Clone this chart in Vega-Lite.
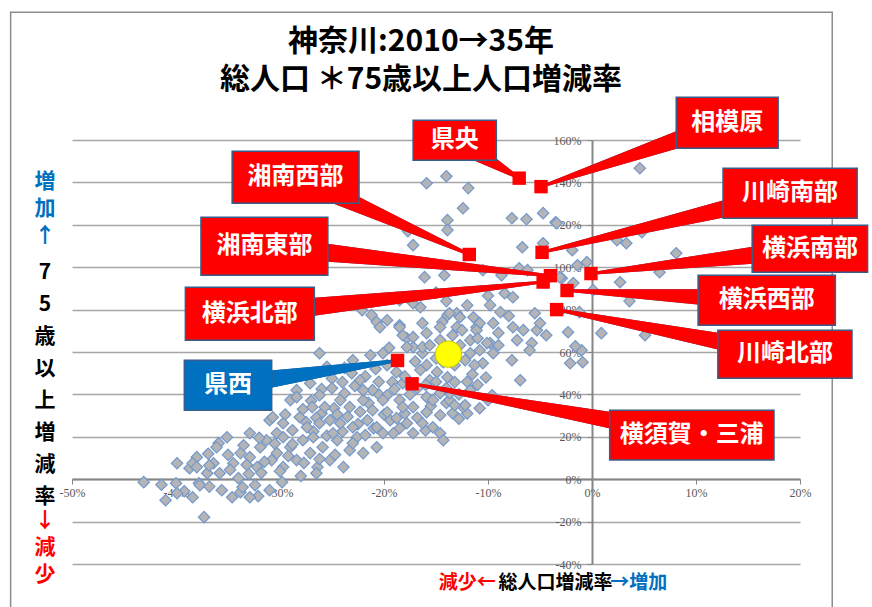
{
"$schema": "https://vega.github.io/schema/vega-lite/v6.json",
"width": 728, "height": 424,
"autosize": {"type": "none"},
"padding": {"left": 72, "top": 140, "right": 72, "bottom": 43},
"background": "white",
"title": {"text": ["神奈川:2010→35年", "総人口 ＊75歳以上人口増減率"], "font": "Noto Sans CJK JP", "fontSize": 30, "fontWeight": "bold", "color": "#000000", "lineHeight": 38, "baseline": "bottom", "offset": -114, "dx": -15, "anchor": "middle", "frame": "group"},
"config": {"view": {"stroke": null}, "font": "Noto Sans CJK JP"},
"datasets": {
"frame": [{"x": -55.9, "x2": 23.1, "y": 220.3, "y2": -75}],
"pts": [
{"x":-43.1,"y":-1.4},{"x":-41.0,"y":-9.9},{"x":-40.0,"y":-1.9},{"x":-39.2,"y":-5.7},{"x":-38.4,"y":-8.5},{"x":-37.8,"y":-1.9},{"x":-37.3,"y":-17.9},{"x":-39.9,"y":7.5},{"x":-38.7,"y":5.2},{"x":-38.0,"y":10.4},{"x":-36.4,"y":7.5},{"x":-35.9,"y":17.0},{"x":-35.1,"y":19.8},{"x":-35.6,"y":-5.2},{"x":-34.6,"y":-8.5},{"x":-33.8,"y":-6.1},{"x":-32.4,"y":-2.8},{"x":-29.8,"y":-1.4},{"x":-32.1,"y":-8.0},{"x":-31.0,"y":-5.2},{"x":-41.4,"y":-2.6},{"x":-39.9,"y":-6.6},{"x":-37.7,"y":-2.8},{"x":-33.6,"y":-3.8},{"x":-32.9,"y":-8.5},{"x":-38.4,"y":7.5},{"x":-38.0,"y":5.7},{"x":-37.0,"y":2.8},{"x":-35.8,"y":2.8},{"x":-34.5,"y":7.5},{"x":-33.8,"y":12.3},{"x":-32.9,"y":10.4},{"x":-32.2,"y":5.7},{"x":-31.9,"y":15.1},{"x":-31.3,"y":18.4},{"x":-30.3,"y":21.7},{"x":-30.3,"y":12.3},{"x":-29.7,"y":5.7},{"x":-29.0,"y":15.1},{"x":-28.4,"y":9.0},{"x":-27.8,"y":18.4},{"x":-27.1,"y":12.3},{"x":-26.4,"y":5.7},{"x":-25.9,"y":15.1},{"x":-25.2,"y":9.0},{"x":-24.5,"y":18.4},{"x":-23.9,"y":5.7},{"x":-23.3,"y":13.7},{"x":-22.6,"y":19.8},{"x":-22.0,"y":12.3},{"x":-20.7,"y":15.1},{"x":-20.1,"y":21.7},{"x":-19.4,"y":27.8},{"x":-36.9,"y":12.0},{"x":-36.1,"y":15.1},{"x":-32.9,"y":21.7},{"x":-31.0,"y":27.8},{"x":-29.0,"y":37.3},{"x":-28.4,"y":42.0},
{"x":-29.5,"y":30.5},{"x":-27.5,"y":27.0},{"x":-26.0,"y":31.0},{"x":-24.8,"y":33.5},{"x":-23.5,"y":29.5},{"x":-22.3,"y":31.8},{"x":-21.0,"y":24.0},{"x":-28.8,"y":16.5},{"x":-26.8,"y":22.5},{"x":-25.5,"y":20.5},{"x":-24.0,"y":22.5},{"x":-23.0,"y":17.0},{"x":-21.8,"y":20.8},{"x":-27.7,"y":7.7},{"x":-26.2,"y":9.5},{"x":-24.7,"y":11.5},{"x":-30.8,"y":9.0},{"x":-31.8,"y":3.0},{"x":-34.0,"y":0.5},{"x":-36.8,"y":-3.5},{"x":-33.0,"y":2.5},{"x":-28.0,"y":1.5},{"x":-26.5,"y":2.8},
{"x":-34.8,"y":4.5},{"x":-33.2,"y":6.8},{"x":-31.5,"y":8.2},{"x":-30.0,"y":3.8},{"x":-29.2,"y":11.0},{"x":-33.5,"y":16.0},{"x":-32.0,"y":19.5},{"x":-30.5,"y":16.8},{"x":-35.0,"y":11.5},{"x":-36.8,"y":6.5},
{"x":-27.0,"y":37.0},{"x":-26.0,"y":42.5},{"x":-25.0,"y":47.5},{"x":-23.8,"y":40.5},{"x":-22.8,"y":44.0},{"x":-21.5,"y":36.0},{"x":-20.5,"y":40.0},{"x":-20.0,"y":30.5},{"x":-22.5,"y":26.0},{"x":-24.5,"y":30.5},{"x":-26.5,"y":29.0},{"x":-27.8,"y":33.0},{"x":-21.8,"y":48.5},{"x":-23.8,"y":52.5},{"x":-25.5,"y":53.0},{"x":-20.5,"y":46.0},
{"x":-18.0,"y":31.0},{"x":-16.8,"y":29.0},{"x":-15.5,"y":34.5},{"x":-14.0,"y":36.0},{"x":-12.8,"y":28.5},{"x":-16.0,"y":23.0},{"x":-18.5,"y":24.0},{"x":-12.0,"y":31.0},{"x":-11.0,"y":44.5},{"x":-10.2,"y":48.0},
{"x":-14.0,"y":84.0},{"x":-12.0,"y":82.0},{"x":-10.0,"y":86.5},{"x":-9.0,"y":69.0},{"x":-8.0,"y":77.0},{"x":-15.0,"y":88.0},
{"x":-22.1,"y":79.7},{"x":-21.2,"y":77.4},{"x":-20.7,"y":74.1},{"x":-18.5,"y":72.6},{"x":-16.3,"y":73.6},{"x":-17.8,"y":66.5},{"x":-15.9,"y":68.9},{"x":-13.9,"y":77.4},{"x":-14.4,"y":74.1},{"x":-13.4,"y":67.9},{"x":-17.2,"y":62.3},{"x":-16.3,"y":59.4},{"x":-15.9,"y":53.8},{"x":-14.9,"y":50.5},{"x":-13.9,"y":48.1},{"x":-13.2,"y":45.8},{"x":-15.6,"y":46.7},{"x":-26.2,"y":59.4},{"x":-20.1,"y":59.4},{"x":-19.7,"y":53.8},{"x":-18.8,"y":50.5},{"x":-19.2,"y":45.8},{"x":-18.2,"y":45.3},{"x":-16.8,"y":42.9},{"x":-15.9,"y":38.7},{"x":-14.6,"y":40.6},{"x":-13.7,"y":37.3},{"x":-13.4,"y":31.1},{"x":-14.6,"y":30.2},{"x":-15.9,"y":31.6},{"x":-17.2,"y":34.0},{"x":-18.5,"y":37.3},{"x":-19.7,"y":39.6},{"x":-21.1,"y":42.0},{"x":-22.3,"y":46.7},{"x":-23.1,"y":50.0},{"x":-24.0,"y":45.8},{"x":-25.0,"y":42.9},{"x":-26.2,"y":39.6},{"x":-27.1,"y":45.3},{"x":-28.4,"y":38.7},{"x":-26.9,"y":34.0},{"x":-25.7,"y":34.0},{"x":-24.2,"y":37.3},{"x":-23.3,"y":34.0},{"x":-22.0,"y":37.3},{"x":-21.1,"y":32.5},{"x":-19.7,"y":31.6},{"x":-18.8,"y":28.8},{"x":-17.8,"y":26.4},{"x":-16.3,"y":26.4},{"x":-15.3,"y":24.5},{"x":-14.6,"y":21.7},{"x":-30.7,"y":29.2},{"x":-29.7,"y":26.4},{"x":-28.1,"y":29.2},{"x":-28.8,"y":23.1},{"x":-27.4,"y":24.5},{"x":-26.2,"y":26.4},{"x":-25.2,"y":27.8},{"x":-24.2,"y":26.4},{"x":-23.0,"y":24.5},{"x":-21.6,"y":27.8},{"x":-20.7,"y":24.5},{"x":-19.1,"y":21.7},{"x":-17.2,"y":21.7},{"x":-24.9,"y":21.7},{"x":-26.8,"y":19.8},{"x":-29.7,"y":19.8},
{"x":-23.0,"y":56.1},{"x":-21.3,"y":58.5},{"x":-18.2,"y":67.9},{"x":-14.6,"y":71.7},{"x":-13.0,"y":78.3},{"x":-9.8,"y":82.1},{"x":-11.1,"y":71.7},{"x":-9.8,"y":64.2},{"x":-10.5,"y":54.7},{"x":-10.8,"y":33.5},{"x":-14.3,"y":18.4},{"x":-12.4,"y":34.0},{"x":-13.7,"y":40.6},{"x":-15.3,"y":37.3},{"x":-18.2,"y":34.0},{"x":-20.1,"y":37.3},
{"x":-15.9,"y":139.6},{"x":-14.0,"y":142.9},{"x":-11.9,"y":137.3},{"x":-12.4,"y":127.8},{"x":-13.9,"y":122.2},{"x":-13.9,"y":117.5},{"x":-17.7,"y":117.0},{"x":-17.2,"y":110.4},{"x":-7.7,"y":123.1},{"x":-6.3,"y":122.6},{"x":-4.7,"y":125.5},{"x":-3.5,"y":121.2},{"x":-6.7,"y":109.4},{"x":-4.7,"y":111.3},{"x":-7.0,"y":99.5},{"x":-6.2,"y":98.6},{"x":-16.1,"y":95.3},{"x":-14.2,"y":96.2},{"x":-10.5,"y":98.6},{"x":-8.7,"y":96.2},{"x":-2.9,"y":94.8},{"x":-8.4,"y":87.7},{"x":-7.6,"y":85.8},{"x":-8.8,"y":78.8},{"x":-17.2,"y":83.0},{"x":-18.5,"y":84.4},{"x":-16.5,"y":81.1},{"x":-13.7,"y":78.3},{"x":-12.7,"y":76.4},{"x":-11.4,"y":76.4},{"x":-10.8,"y":73.6},{"x":-18.5,"y":71.7},{"x":-17.2,"y":67.0},{"x":-13.0,"y":71.7},{"x":-11.1,"y":70.3},{"x":-9.5,"y":73.6},{"x":-7.6,"y":71.7},{"x":-6.6,"y":70.3},{"x":-5.5,"y":78.3},{"x":-5.3,"y":70.3},{"x":-2.3,"y":69.3},{"x":-5.8,"y":64.2},{"x":-7.2,"y":65.6},{"x":-10.1,"y":64.2},{"x":-9.5,"y":59.4},{"x":-11.7,"y":59.4},{"x":-16.3,"y":62.3},{"x":-17.8,"y":62.3},{"x":-19.7,"y":75.0},{"x":-20.4,"y":71.7},
{"x":4.6,"y":146.7},{"x":-3.4,"y":120.8},{"x":2.4,"y":112.7},{"x":3.3,"y":111.3},{"x":4.8,"y":116.5},{"x":-1.9,"y":108.0},{"x":8.1,"y":106.6},{"x":-1.4,"y":100.9},{"x":-0.5,"y":102.4},{"x":6.5,"y":97.6},{"x":-3.1,"y":95.3},{"x":-1.8,"y":92.5},{"x":0.1,"y":89.2},{"x":2.7,"y":92.9},{"x":3.6,"y":84.0},{"x":-1.2,"y":78.8},{"x":0.9,"y":68.9},{"x":5.1,"y":67.9},{"x":-1.0,"y":60.8},{"x":-2.1,"y":54.7},{"x":-0.9,"y":55.2},{"x":-5.0,"y":73.6},
{"x":-9.0,"y":63.2},{"x":-7.7,"y":56.1},{"x":-6.0,"y":60.8},{"x":-6.9,"y":46.7},{"x":-4.4,"y":67.9},{"x":-1.6,"y":62.7},{"x":-9.6,"y":39.6},{"x":-11.7,"y":42.0},{"x":-12.2,"y":34.9},{"x":-10.0,"y":37.3},{"x":-13.2,"y":34.9},{"x":-15.6,"y":63.2},{"x":-14.6,"y":65.6},{"x":-12.7,"y":63.2},{"x":-12.2,"y":56.1},{"x":-11.3,"y":53.8},{"x":-13.2,"y":53.8},{"x":-14.3,"y":55.2},{"x":-11.7,"y":65.6},{"x":-10.8,"y":60.8},{"x":-12.5,"y":70.3},{"x":-11.0,"y":66.5},
{"x":-19.0,"y":42.5},{"x":-17.5,"y":40.0},{"x":-16.0,"y":44.5},{"x":-15.0,"y":46.0},{"x":-18.0,"y":48.5},{"x":-16.5,"y":51.5},{"x":-14.0,"y":43.0},{"x":-12.8,"y":40.0},{"x":-12.0,"y":46.0},{"x":-11.5,"y":49.5},{"x":-17.0,"y":55.5},{"x":-15.0,"y":57.0},{"x":-19.5,"y":62.0},{"x":-20.8,"y":52.0},{"x":-22.0,"y":42.0}
],
"regions": [
{"name":"県央","x":-7.0,"y":142},{"name":"相模原","x":-4.9,"y":138},{"name":"湘南西部","x":-11.8,"y":106},{"name":"川崎南部","x":-4.8,"y":107},{"name":"横浜南部","x":-0.1,"y":97},{"name":"湘南東部","x":-4.0,"y":96},{"name":"横浜北部","x":-4.7,"y":93},{"name":"横浜西部","x":-2.4,"y":89},{"name":"川崎北部","x":-3.4,"y":80},{"name":"県西","x":-18.7,"y":56},{"name":"横須賀・三浦","x":-17.3,"y":45}
],
"pref": [{"name":"神奈川県","x":-13.8,"y":59}],
"boxes": [
{"name":"県央","x":-17.2,"x2":-9.2,"y":169.3,"y2":150.5},
{"name":"相模原","x":8.1,"x2":17.9,"y":180.2,"y2":156.1},
{"name":"湘南西部","x":-34.6,"x2":-22.4,"y":154.7,"y2":130.2},
{"name":"川崎南部","x":12.6,"x2":25.5,"y":146.7,"y2":123.1},
{"name":"湘南東部","x":-37.6,"x2":-25.4,"y":123.6,"y2":96.2},
{"name":"横浜南部","x":15.4,"x2":26.5,"y":119.8,"y2":97.6},
{"name":"横浜北部","x":-39.1,"x2":-26.7,"y":90.6,"y2":65.6},
{"name":"横浜西部","x":10.2,"x2":23.4,"y":96.2,"y2":72.6},
{"name":"川崎北部","x":12.1,"x2":25.0,"y":70.3,"y2":47.6},
{"name":"県西","x":-39.2,"x2":-30.8,"y":56.1,"y2":32.5},
{"name":"横須賀・三浦","x":1.7,"x2":17.5,"y":32.5,"y2":9.0}
],
"labels": [
{"name":"県央","x":-13.2,"y":159.9},{"name":"相模原","x":13.0,"y":168.2},{"name":"湘南西部","x":-28.5,"y":142.5},{"name":"川崎南部","x":19.05,"y":134.9},{"name":"湘南東部","x":-31.5,"y":109.9},{"name":"横浜南部","x":20.95,"y":108.7},{"name":"横浜北部","x":-32.9,"y":78.1},{"name":"横浜西部","x":16.8,"y":84.4},{"name":"川崎北部","x":18.55,"y":59.0},{"name":"県西","x":-35.0,"y":44.3},{"name":"横須賀・三浦","x":9.6,"y":20.8}
],
"wedges": [
{"name":"県央","end":1,"x":-13.2,"y":159.9},{"name":"県央","end":0,"x":-7.0,"y":142},
{"name":"相模原","end":1,"x":13.0,"y":168.2},{"name":"相模原","end":0,"x":-4.9,"y":138},
{"name":"湘南西部","end":1,"x":-28.5,"y":142.5},{"name":"湘南西部","end":0,"x":-11.8,"y":106},
{"name":"川崎南部","end":1,"x":19.05,"y":134.9},{"name":"川崎南部","end":0,"x":-4.8,"y":107},
{"name":"湘南東部","end":1,"x":-31.5,"y":109.9},{"name":"湘南東部","end":0,"x":-4.0,"y":96},
{"name":"横浜南部","end":1,"x":20.95,"y":108.7},{"name":"横浜南部","end":0,"x":-0.1,"y":97},
{"name":"横浜北部","end":1,"x":-32.9,"y":78.1},{"name":"横浜北部","end":0,"x":-4.7,"y":93},
{"name":"横浜西部","end":1,"x":16.8,"y":84.4},{"name":"横浜西部","end":0,"x":-2.4,"y":89},
{"name":"川崎北部","end":1,"x":18.55,"y":59.0},{"name":"川崎北部","end":0,"x":-3.4,"y":80},
{"name":"県西","end":1,"x":-35.0,"y":44.3},{"name":"県西","end":0,"x":-18.7,"y":56},
{"name":"横須賀・三浦","end":1,"x":9.6,"y":20.8},{"name":"横須賀・三浦","end":0,"x":-17.3,"y":45}
],
"ytitle": [
{"part":"up","t":["増","加","↑"],"x":-52.6,"y":140.1},
{"part":"mid","t":["7","5","歳","以","上","増","減","率"],"x":-52.6,"y":97.2},
{"part":"down","t":["↓","減","少"],"x":-52.6,"y":-19.8}
],
"xtitle": [
{"part":"L","t":"減少←","x":-12.0,"y":-49.1},
{"part":"M","t":"総人口増減率","x":-3.5,"y":-49.1},
{"part":"R","t":"→増加","x":4.5,"y":-49.1}
]
},
"encoding": {
"x": {"field": "x", "type": "quantitative", "scale": {"domain": [-50, 20], "nice": false, "zero": false},
 "axis": {"orient": "bottom", "offset": -85, "values": [-50,-40,-30,-20,-10,0,10,20], "labelExpr": "datum.value + '%'", "grid": false, "domainColor": "#868686", "domainWidth": 2, "tickColor": "#868686", "tickSize": 5, "labelColor": "#595959", "labelFont": "Liberation Sans Narrow", "labelFontSize": 12, "labelPadding": 3, "labelFlush": false, "labelOverlap": false, "title": null, "zindex": 0}},
"y": {"field": "y", "type": "quantitative", "scale": {"domain": [-40, 160], "nice": false, "zero": false},
 "axis": {"orient": "left", "offset": -520, "values": [-40,-20,0,20,40,60,80,100,120,140,160], "labelExpr": "datum.value + '%'", "grid": true, "gridColor": "#a6a6a6", "gridWidth": 1.6, "domainColor": "#868686", "domainWidth": 2, "tickColor": "#868686", "tickSize": 5, "labelColor": "#595959", "labelFont": "Liberation Sans Narrow", "labelFontSize": 12, "labelPadding": 6, "labelFlush": false, "labelOverlap": false, "title": null, "zindex": 0}}
},
"layer": [
{"data": {"name": "frame"}, "mark": {"type": "rect", "fill": null, "fillOpacity": 0, "stroke": "#8c8c8c", "strokeWidth": 1.5}, "encoding": {"x2": {"field": "x2"}, "y2": {"field": "y2"}}},
{"data": {"name": "pts"}, "mark": {"type": "point", "shape": "diamond", "filled": true, "fill": "#b4b4b4", "stroke": "#7398cc", "strokeWidth": 1.2, "size": 130, "opacity": 1, "fillOpacity": 1, "strokeOpacity": 1}},
{"data": {"name": "wedges"}, "mark": {"type": "trail"}, "encoding": {"detail": {"field": "name"}, "order": {"field": "end"}, "size": {"field": "end", "type": "quantitative", "scale": {"domain": [0, 1], "range": [2.6, 22]}, "legend": null}, "color": {"condition": {"test": "datum.name === '県西'", "value": "#1f4e79"}, "value": "#2f5597"}}},
{"data": {"name": "wedges"}, "mark": {"type": "trail"}, "encoding": {"detail": {"field": "name"}, "order": {"field": "end"}, "size": {"field": "end", "type": "quantitative", "scale": {"domain": [0, 1], "range": [0.6, 19]}, "legend": null}, "color": {"condition": {"test": "datum.name === '県西'", "value": "#0070c0"}, "value": "#ff0000"}}},
{"data": {"name": "regions"}, "mark": {"type": "square", "filled": true, "color": "#ff0000", "size": 180, "opacity": 1}},
{"data": {"name": "pref"}, "mark": {"type": "circle", "filled": true, "fill": "#ffff00", "stroke": "#c8c800", "strokeWidth": 1, "size": 700, "opacity": 1}},
{"data": {"name": "boxes"}, "mark": {"type": "rect", "stroke": "#385d8a", "strokeWidth": 1.5}, "encoding": {"x2": {"field": "x2"}, "y2": {"field": "y2"}, "color": {"condition": {"test": "datum.name === '県西'", "value": "#0070c0"}, "value": "#ff0000"}}},
{"data": {"name": "labels"}, "mark": {"type": "text", "font": "Noto Sans CJK JP", "fontSize": 24, "fontWeight": "bold", "color": "#ffffff", "align": "center", "baseline": "middle"}, "encoding": {"text": {"field": "name"}}},
{"data": {"name": "ytitle"}, "transform": [{"filter": "datum.part !== 'mid'"}], "mark": {"type": "text", "font": "Noto Sans CJK JP", "fontSize": 21, "fontWeight": "bold", "align": "center", "baseline": "middle", "lineHeight": 27}, "encoding": {"text": {"field": "t"}, "color": {"condition": {"test": "datum.part === 'up'", "value": "#0070c0"}, "value": "#ff0000"}}},
{"data": {"name": "ytitle"}, "transform": [{"filter": "datum.part === 'mid'"}], "mark": {"type": "text", "font": "Noto Sans CJK JP", "fontSize": 21, "fontWeight": "bold", "align": "center", "baseline": "middle", "lineHeight": 32, "color": "#000000"}, "encoding": {"text": {"field": "t"}}},
{"data": {"name": "xtitle"}, "mark": {"type": "text", "font": "Noto Sans CJK JP", "fontSize": 19, "fontWeight": "bold", "align": "center", "baseline": "middle"}, "encoding": {"text": {"field": "t"}, "color": {"condition": [{"test": "datum.part === 'L'", "value": "#ff0000"}, {"test": "datum.part === 'R'", "value": "#0070c0"}], "value": "#000000"}}}
]
}
